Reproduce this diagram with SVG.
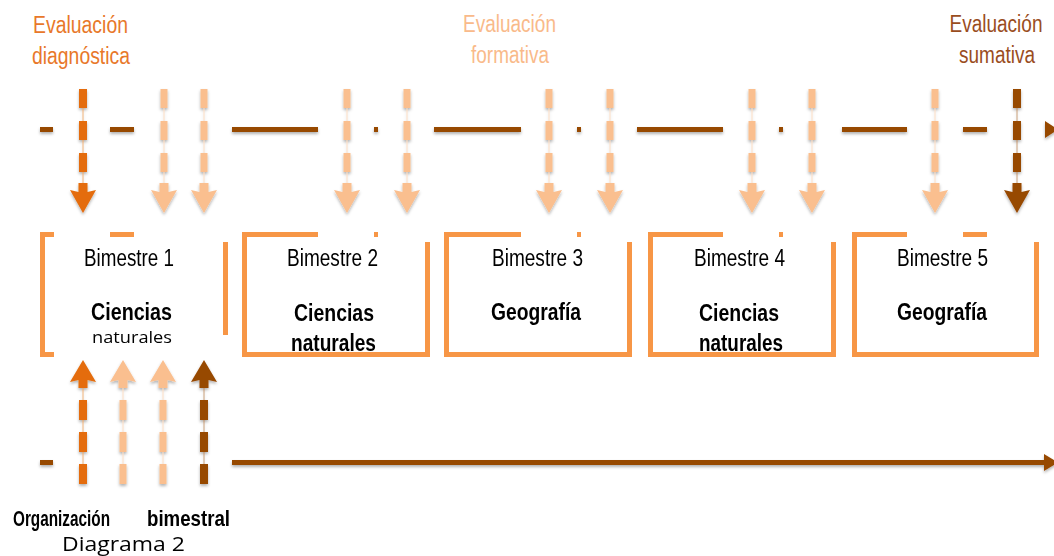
<svg xmlns="http://www.w3.org/2000/svg" width="1054" height="556" viewBox="0 0 1054 556">
<style>
.n{font-family:"Liberation Sans Narrow","Liberation Sans",Arial,sans-serif;font-size:23px;text-anchor:middle;fill:#000}
.b{font-weight:bold}
.o{font-family:"Open Sans","DejaVu Sans",sans-serif;text-anchor:middle;fill:#000}
.box{fill:none;stroke:#F79646;stroke-width:5;stroke-linecap:butt}
.tl{fill:#974806}
.dd{stroke:#E46C0A;stroke-width:8;stroke-dasharray:19 13}
.dl{stroke:#FABF8F;stroke-width:7;stroke-dasharray:19 13}
.db{stroke:#974806;stroke-width:8;stroke-dasharray:19 13}
.ud{stroke-dasharray:20 12}
.thin{stroke-width:1;opacity:0.5}
</style>
<defs>
<filter id="sh" filterUnits="userSpaceOnUse" x="0" y="0" width="1054" height="556">
<feDropShadow dx="0" dy="2" stdDeviation="1.5" flood-color="#000" flood-opacity="0.3"/>
</filter>
<polygon id="hd" points="-4.5,183 4.5,183 4.5,192 13,190 0,213 -13,190 -4.5,192"/>
<polygon id="hu" points="0,360 13,382 4.5,380 4.5,388 -4.5,388 -4.5,380 -13,382"/>
</defs>

<g id="eval-diagnostica" fill="#E8782A" font-family="'Liberation Sans Narrow','Liberation Sans',Arial,sans-serif" font-size="23" text-anchor="middle">
<text x="80.5" y="33" textLength="95" lengthAdjust="spacingAndGlyphs">Evaluación</text>
<text x="81" y="64" textLength="98" lengthAdjust="spacingAndGlyphs">diagnóstica</text>
</g>
<g id="eval-formativa" fill="#F9BA8A" font-family="'Liberation Sans Narrow','Liberation Sans',Arial,sans-serif" font-size="23" text-anchor="middle">
<text x="509.5" y="32" textLength="93" lengthAdjust="spacingAndGlyphs">Evaluación</text>
<text x="510" y="63" textLength="78" lengthAdjust="spacingAndGlyphs">formativa</text>
</g>
<g id="eval-sumativa" fill="#9A4D1E" font-family="'Liberation Sans Narrow','Liberation Sans',Arial,sans-serif" font-size="23" text-anchor="middle">
<text x="996" y="32" textLength="93" lengthAdjust="spacingAndGlyphs">Evaluación</text>
<text x="997" y="63" textLength="76" lengthAdjust="spacingAndGlyphs">sumativa</text>
</g>

<g id="connectors">
<g filter="url(#sh)">
<rect class="tl" x="40" y="127" width="13" height="5"/>
<rect class="tl" x="110" y="127" width="24" height="5"/>
<rect class="tl" x="232" y="127" width="86" height="5"/>
<rect class="tl" x="374" y="127" width="4" height="5"/>
<rect class="tl" x="434" y="127" width="87" height="5"/>
<rect class="tl" x="577" y="127" width="4" height="5"/>
<rect class="tl" x="637" y="127" width="86" height="5"/>
<rect class="tl" x="779" y="127" width="4" height="5"/>
<rect class="tl" x="842" y="127" width="65" height="5"/>
<rect class="tl" x="963" y="127" width="24" height="5"/>
<polygon class="tl" points="1045,121 1058,129.5 1045,138"/>
<rect class="tl" x="40" y="460" width="13" height="5"/>
<rect class="tl" x="232" y="460" width="814" height="5"/>
<polygon class="tl" points="1044,454 1058,462.5 1044,471"/>

<g stroke="#E46C0A"><line class="thin" x1="83" y1="89" x2="83" y2="184"/><line class="dd" x1="83" y1="89" x2="83" y2="172"/></g>
<use href="#hd" x="83" fill="#E46C0A"/>
<g fill="#FABF8F">
<g stroke="#FABF8F">
<line class="thin" x1="164" y1="89" x2="164" y2="184"/><line class="dl" x1="164" y1="89" x2="164" y2="172"/>
<line class="thin" x1="204" y1="89" x2="204" y2="184"/><line class="dl" x1="204" y1="89" x2="204" y2="172"/>
<line class="thin" x1="347" y1="89" x2="347" y2="184"/><line class="dl" x1="347" y1="89" x2="347" y2="172"/>
<line class="thin" x1="407" y1="89" x2="407" y2="184"/><line class="dl" x1="407" y1="89" x2="407" y2="172"/>
<line class="thin" x1="549" y1="89" x2="549" y2="184"/><line class="dl" x1="549" y1="89" x2="549" y2="172"/>
<line class="thin" x1="610" y1="89" x2="610" y2="184"/><line class="dl" x1="610" y1="89" x2="610" y2="172"/>
<line class="thin" x1="752" y1="89" x2="752" y2="184"/><line class="dl" x1="752" y1="89" x2="752" y2="172"/>
<line class="thin" x1="812" y1="89" x2="812" y2="184"/><line class="dl" x1="812" y1="89" x2="812" y2="172"/>
<line class="thin" x1="935" y1="89" x2="935" y2="184"/><line class="dl" x1="935" y1="89" x2="935" y2="172"/>
</g>
<use href="#hd" x="164"/><use href="#hd" x="204"/><use href="#hd" x="347"/><use href="#hd" x="407"/>
<use href="#hd" x="549"/><use href="#hd" x="610"/><use href="#hd" x="752"/><use href="#hd" x="812"/><use href="#hd" x="935"/>
</g>
<g stroke="#974806"><line class="thin" x1="1017" y1="89" x2="1017" y2="184"/><line class="db" x1="1017" y1="89" x2="1017" y2="172"/></g>
<use href="#hd" x="1017" fill="#974806"/>

<g stroke="#E46C0A"><line class="thin" x1="83" y1="387" x2="83" y2="484"/><line class="dd ud" x1="83" y1="400" x2="83" y2="484"/></g>
<use href="#hu" x="83" fill="#E46C0A"/>
<g stroke="#FABF8F"><line class="thin" x1="123" y1="387" x2="123" y2="484"/><line class="dl ud" x1="123" y1="400" x2="123" y2="484"/>
<line class="thin" x1="163" y1="387" x2="163" y2="484"/><line class="dl ud" x1="163" y1="400" x2="163" y2="484"/></g>
<use href="#hu" x="123" fill="#FABF8F"/><use href="#hu" x="163" fill="#FABF8F"/>
<g stroke="#974806"><line class="thin" x1="204" y1="387" x2="204" y2="484"/><line class="db ud" x1="204" y1="400" x2="204" y2="484"/></g>
<use href="#hu" x="204" fill="#974806"/>
</g>
</g>

<g id="bimestre1">
<path class="box" d="M54,234.5H42.5V354.5H54M110,234.5H134M225.5,242V335"/>
<text class="n" x="129" y="266" textLength="90" lengthAdjust="spacingAndGlyphs">Bimestre 1</text>
<text class="n b" x="131.5" y="320" textLength="81" lengthAdjust="spacingAndGlyphs">Ciencias</text>
<text class="o" x="132" y="343" font-size="17" textLength="80" lengthAdjust="spacingAndGlyphs">naturales</text>
</g>
<g id="bimestre2">
<path class="box" d="M318,234.5H244.5V354.5H427.5V242M374,234.5H378"/>
<text class="n" x="332.5" y="266" textLength="91" lengthAdjust="spacingAndGlyphs">Bimestre 2</text>
<text class="n b" x="334" y="321" textLength="80" lengthAdjust="spacingAndGlyphs">Ciencias</text>
<text class="n b" x="333.5" y="351" textLength="85" lengthAdjust="spacingAndGlyphs">naturales</text>
</g>
<g id="bimestre3">
<path class="box" d="M521,234.5H446.5V354.5H629.5V242M577,234.5H581"/>
<text class="n" x="537.5" y="266" textLength="91" lengthAdjust="spacingAndGlyphs">Bimestre 3</text>
<text class="n b" x="536" y="320" textLength="90" lengthAdjust="spacingAndGlyphs">Geografía</text>
</g>
<g id="bimestre4">
<path class="box" d="M723,234.5H650.5V354.5H833.5V242M779,234.5H783"/>
<text class="n" x="739.5" y="266" textLength="91" lengthAdjust="spacingAndGlyphs">Bimestre 4</text>
<text class="n b" x="739" y="321" textLength="80" lengthAdjust="spacingAndGlyphs">Ciencias</text>
<text class="n b" x="741" y="351" textLength="84" lengthAdjust="spacingAndGlyphs">naturales</text>
</g>
<g id="bimestre5">
<path class="box" d="M907,234.5H854.5V354.5H1036.5V242M963,234.5H987"/>
<text class="n" x="942.5" y="266" textLength="91" lengthAdjust="spacingAndGlyphs">Bimestre 5</text>
<text class="n b" x="942" y="320" textLength="90" lengthAdjust="spacingAndGlyphs">Geografía</text>
</g>

<g id="caption">
<text class="n b" style="text-anchor:start;font-size:22px"><tspan x="13" y="526" textLength="97" lengthAdjust="spacingAndGlyphs">Organización</tspan><tspan x="147" y="526" textLength="83" lengthAdjust="spacingAndGlyphs">bimestral</tspan></text>
<text class="o" x="123.5" y="551" font-size="20" textLength="123" lengthAdjust="spacingAndGlyphs">Diagrama 2</text>
</g>
</svg>
